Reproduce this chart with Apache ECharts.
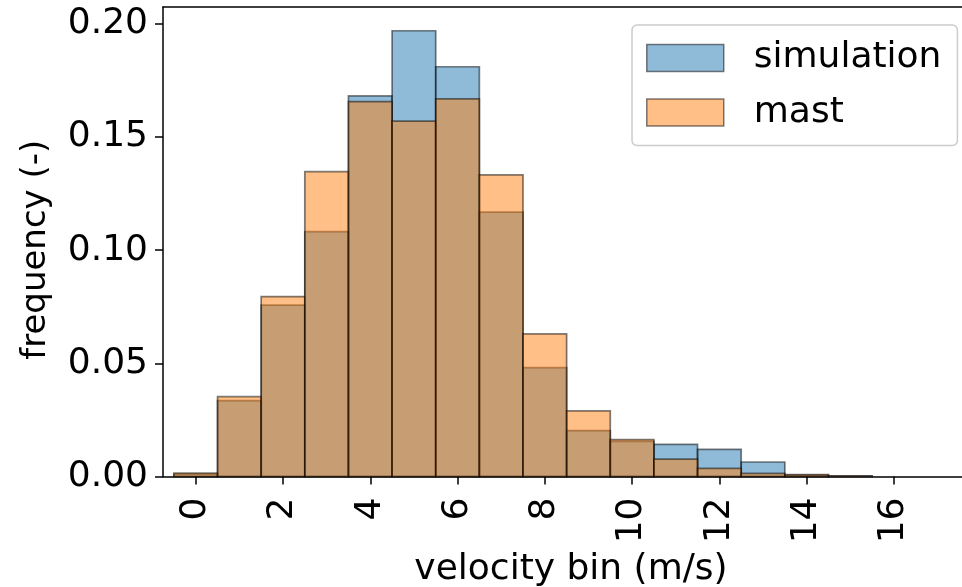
<!DOCTYPE html>
<html>
<head>
<meta charset="utf-8">
<script src="https://cdn.jsdelivr.net/npm/echarts@6/dist/echarts.min.js"></script>
<style>
html,body{margin:0;padding:0;background:#fff;}
#chart{width:962px;height:587px;}
</style>
</head>
<body>
<div id="chart"></div>
<script>
var binCenters = [0, 1, 2, 3, 4, 5, 6, 7, 8, 9, 10, 11, 12, 13, 14, 15];
var simulation = [0.0010, 0.0335, 0.0757, 0.1082, 0.1682, 0.1970, 0.1811, 0.1168, 0.0481, 0.0203, 0.0155, 0.0142, 0.0120, 0.0064, 0.0006, 0.0003];
var mast = [0.0015, 0.0353, 0.0795, 0.1347, 0.1657, 0.1571, 0.1669, 0.1333, 0.0630, 0.0290, 0.0163, 0.0077, 0.0036, 0.0014, 0.0008, 0.0002];
var xTicks = [0, 2, 4, 6, 8, 10, 12, 14, 16];
var yTicks = [0, 0.05, 0.10, 0.15, 0.20];
var binWidth = 1;

var FONT = 'DejaVu Sans';
var BLUE = 'rgba(31,119,180,0.5)';
var ORANGE = 'rgba(255,127,14,0.5)';
var EDGE = 'rgba(0,0,0,0.5)';

function makeData(vals) {
  return binCenters.map(function (c, i) { return [c, vals[i]]; });
}
function renderBar(fill) {
  return function (params, api) {
    var c = api.value(0), v = api.value(1);
    var p1 = api.coord([c - binWidth / 2, v]);
    var p2 = api.coord([c + binWidth / 2, 0]);
    return {
      type: 'rect',
      shape: { x: p1[0], y: p1[1], width: p2[0] - p1[0], height: p2[1] - p1[1] },
      style: { fill: fill, stroke: EDGE, lineWidth: 1.7 }
    };
  };
}

var chart = echarts.init(document.getElementById('chart'), null, { renderer: 'canvas' });
chart.setOption({
  animation: false,
  backgroundColor: '#ffffff',
  grid: { left: 163, top: 7, width: 816, bottom: 110.5, containLabel: false, outerBoundsMode: 'none' },
  legend: {
    orient: 'vertical',
    left: 632,
    top: 25,
    padding: [15, 16, 15, 14],
    itemWidth: 77,
    itemHeight: 27,
    itemGap: 18.5,
    backgroundColor: 'rgba(255,255,255,0.8)',
    borderColor: '#cccccc',
    borderWidth: 1.5,
    borderRadius: 5,
    textStyle: { fontFamily: FONT, fontSize: 36, color: '#000', lineHeight: 36, padding: [0, 0, 0, 25] },
    data: [
      { name: 'simulation', icon: 'rect', itemStyle: { color: BLUE, borderColor: EDGE, borderWidth: 1.5 } },
      { name: 'mast', icon: 'rect', itemStyle: { color: ORANGE, borderColor: EDGE, borderWidth: 1.5 } }
    ]
  },
  xAxis: [{
    type: 'value',
    min: -0.75,
    max: 17.95,
    position: 'bottom',
    name: 'velocity bin (m/s)',
    nameLocation: 'middle',
    nameGap: 68,
    nameTextStyle: { fontFamily: FONT, fontSize: 36, color: '#000' },
    splitLine: { show: false },
    axisLine: { show: true, onZero: false, lineStyle: { color: '#000', width: 1.5 } },
    axisTick: { show: true, length: 8, lineStyle: { color: '#000', width: 1.5 }, customValues: xTicks },
    axisLabel: { fontFamily: FONT, fontSize: 36, color: '#000', rotate: 90, margin: 21, customValues: xTicks }
  }, {
    type: 'value',
    min: -0.75,
    max: 17.95,
    position: 'top',
    splitLine: { show: false },
    axisLine: { show: true, onZero: false, lineStyle: { color: '#000', width: 1.5 } },
    axisTick: { show: false },
    axisLabel: { show: false }
  }],
  yAxis: {
    type: 'value',
    min: 0,
    max: 0.2075,
    name: 'frequency (-)',
    nameLocation: 'middle',
    nameGap: 110,
    nameRotate: 90,
    nameTextStyle: { fontFamily: FONT, fontSize: 34, color: '#000', padding: [0, 16, 0, 0] },
    splitLine: { show: false },
    axisLine: { show: true, onZero: false, lineStyle: { color: '#000', width: 1.5 } },
    axisTick: { show: true, length: 8, lineStyle: { color: '#000', width: 1.5 }, customValues: yTicks },
    axisLabel: {
      fontFamily: FONT, fontSize: 36, color: '#000', margin: 15, customValues: yTicks,
      formatter: function (v) { return v.toFixed(2); }
    }
  },
  series: [{
    name: 'simulation',
    type: 'custom',
    xAxisIndex: 0,
    itemStyle: { color: BLUE },
    renderItem: renderBar(BLUE),
    encode: { x: 0, y: 1 },
    data: makeData(simulation)
  }, {
    name: 'mast',
    type: 'custom',
    xAxisIndex: 0,
    itemStyle: { color: ORANGE },
    renderItem: renderBar(ORANGE),
    encode: { x: 0, y: 1 },
    data: makeData(mast)
  }]
});
</script>
</body>
</html>
